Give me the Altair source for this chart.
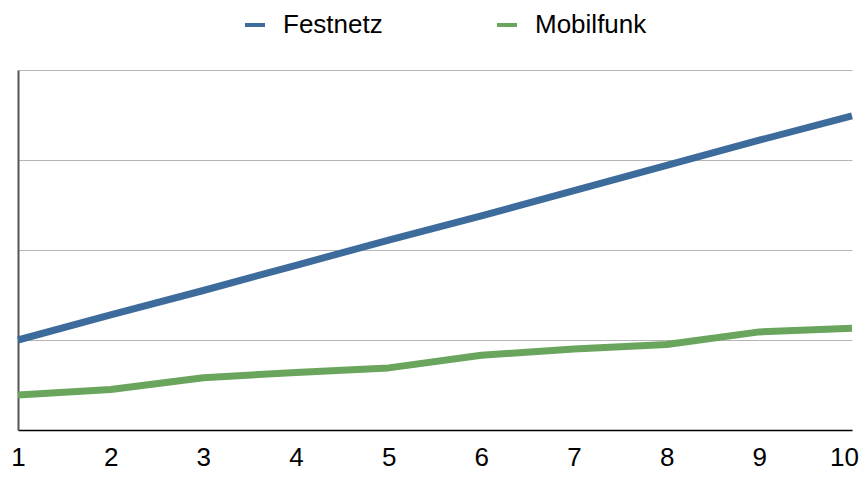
import altair as alt
import pandas as pd

x_values = [1, 2, 3, 4, 5, 6, 7, 8, 9, 10]
festnetz = [1.00, 1.28, 1.55, 1.83, 2.11, 2.38, 2.66, 2.94, 3.22, 3.49]
mobilfunk = [0.39, 0.45, 0.58, 0.64, 0.69, 0.83, 0.90, 0.95, 1.09, 1.13]
series_names = ["Festnetz", "Mobilfunk"]
series_colors = ["#3c6b9c", "#6aa55d"]

rows = []
for name, vals in zip(series_names, [festnetz, mobilfunk]):
    for xv, yv in zip(x_values, vals):
        rows.append({"x": xv, "y": yv, "Serie": name})
df = pd.DataFrame(rows)

FONT = "Liberation Sans"

chart = alt.Chart(df).mark_line(strokeWidth=7, strokeCap="butt", strokeJoin="round").encode(
    x=alt.X("x:Q",
            scale=alt.Scale(domain=[1, 10], nice=False, zero=False),
            axis=alt.Axis(values=x_values, title=None, grid=False, ticks=False,
                          labelFontSize=26, labelFont=FONT, labelColor="#000000",
                          labelBaseline="alphabetic", labelPadding=35,
                          labelOffset=alt.ExprRef("datum.value == 10 ? -8 : 0"),
                          domainColor="#000000", domainWidth=1.5,
                          labelFlush=False, labelOverlap=False)),
    y=alt.Y("y:Q",
            scale=alt.Scale(domain=[0, 4], nice=False),
            axis=alt.Axis(values=[0, 1, 2, 3, 4], title=None, labels=False, ticks=False,
                          grid=True, gridColor="#b5b5b5", gridWidth=1.2,
                          domainColor="#555555", domainWidth=2)),
    color=alt.Color("Serie:N",
                    scale=alt.Scale(domain=series_names, range=series_colors),
                    legend=alt.Legend(title=None, orient="none", legendX=224, legendY=-58,
                                      direction="horizontal", symbolType="stroke",
                                      symbolStrokeWidth=4, symbolSize=400,
                                      labelFontSize=26, labelFont=FONT, labelColor="#000000",
                                      labelOffset=15, columnPadding=106, padding=0,
                                      labelLimit=300)),
).properties(
    width=834,
    height=360,
    autosize=alt.AutoSizeParams(type="none"),
    padding={"left": 10, "top": 62, "right": 7, "bottom": 41},
    background="#ffffff",
).configure_view(stroke=None)

chart.save("out.html", embed_options={"renderer": "svg", "actions": False})
